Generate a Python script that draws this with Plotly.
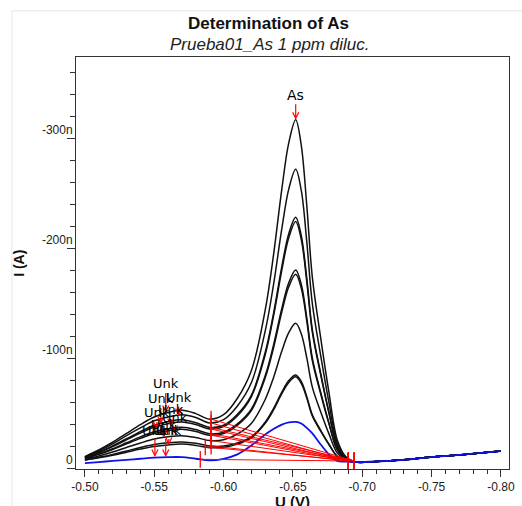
import plotly.graph_objects as go

# Potential grid (V)
U = [-0.500, -0.510, -0.520, -0.530, -0.540, -0.550, -0.560, -0.570, -0.580, -0.590,
     -0.600, -0.610, -0.620, -0.630, -0.636, -0.642, -0.647, -0.652, -0.656, -0.660,
     -0.664, -0.670, -0.676, -0.682, -0.688, -0.695, -0.710, -0.730, -0.750, -0.770, -0.800]

# Cathodic current magnitudes in nA (plotted as negative current)
c1 = [11, 17, 24, 32, 40, 47, 51, 53, 50, 45, 49, 64, 89, 144, 194, 254, 296, 317, 294, 239,
      174, 119, 69, 26, 11, 6, 6.5, 8, 10.5, 12.5, 16]
c2 = [10.6, 16, 22.5, 30, 37, 43.5, 47, 49, 46.5, 41.5, 44.5, 57, 78, 125, 167, 218, 254, 272, 253, 206,
      150, 103, 60, 23, 10.3, 6, 6.5, 8, 10.5, 12.5, 16]
c3 = [10.1, 15, 20.7, 27.2, 33.7, 39.5, 42.7, 44.4, 41.8, 37.5, 39.4, 49.4, 66.7, 105.6, 140.9, 183.6, 213.5, 228.4, 211.9, 173,
      126.2, 86.8, 51.1, 20.3, 9.6, 6, 6.5, 8, 10.5, 12.5, 16]
c4 = [9.9, 14.5, 20, 26.2, 32.4, 37.8, 40.9, 42.5, 40.1, 36, 38.2, 48.1, 65.3, 103.5, 138.5, 180.4, 209.8, 224.5, 208.3, 170,
      124.1, 85.4, 50.4, 20.1, 9.6, 6, 6.5, 8, 10.5, 12.5, 16]
c5 = [9.4, 13.4, 18.1, 23.5, 28.9, 33.6, 36.3, 37.6, 35.5, 31.8, 33.1, 40.7, 54.1, 84.4, 112.2, 145.6, 168.9, 180.5, 167.6, 137,
      100.4, 69.5, 41.4, 17.3, 8.8, 6, 6.5, 8, 10.5, 12.5, 16]
c6 = [9.2, 13, 17.4, 22.5, 27.5, 32, 34.5, 35.8, 33.7, 30.4, 31.9, 39.5, 52.7, 82.5, 109.6, 142.4, 165.2, 176.6, 164, 134.1,
      98.2, 68.1, 40.7, 17, 8.8, 6, 6.5, 8, 10.5, 12.5, 16]
c7 = [8.6, 11.6, 15.2, 19.3, 23.3, 26.9, 29, 30, 28.3, 25.5, 26.2, 31.5, 41.1, 62.8, 82.7, 106.8, 123.6, 132, 122.6, 100.6,
      74.1, 51.8, 31.6, 14.2, 8.1, 6, 6.5, 8, 10.5, 12.5, 16]
c8 = [7.9, 10.3, 13, 16.1, 19.2, 21.9, 23.5, 24.2, 23, 20.6, 20.5, 23.4, 28.9, 42.3, 54.6, 69.6, 80, 85.2, 79.2, 65.4,
      48.9, 34.9, 22.2, 11.2, 7.3, 6, 6.5, 8, 10.5, 12.5, 16]
c9 = [7.7, 9.8, 12.2, 15, 17.8, 20.2, 21.6, 22.3, 21.1, 19.1, 19.4, 22.3, 28, 41.2, 53.3, 68.1, 78.3, 83.4, 77.6, 64.2,
      47.9, 34.2, 21.8, 11, 7.3, 6, 6.5, 8, 10.5, 12.5, 16]
blank = [5, 6, 7, 8, 9, 10, 10.5, 10.5, 9, 7.5, 9, 13, 21, 31, 36, 40, 42, 42.5, 41, 37,
         32, 22, 13, 7, 6.5, 6, 6.5, 8, 10.5, 12.5, 16]

# Baselines for the As peak (start/end potential and current, nA)
bl_u0 = [-0.591, -0.591, -0.591, -0.591, -0.591, -0.591, -0.591, -0.591, -0.5868, -0.5832]
bl_i0 = [45, 41.5, 37.5, 36, 31.8, 30.4, 25.5, 20.6, 19.8, 8.5]
bl_u1 = [-0.6942, -0.6899, -0.6942, -0.6899, -0.6942, -0.6899, -0.6942, -0.6899, -0.6942, -0.6899]
bl_i1 = [7, 7, 7, 7, 7, 7, 7, 7, 7, 7]

# Unk peak markers (potential, current nA)
unk_u = [-0.5583, -0.5676, -0.5548, -0.5619, -0.5519, -0.5647, -0.5569, -0.5605, -0.5583, -0.5505]
unk_i = [50.6, 48.0, 40.6, 38.8, 35.2, 32.5, 27.9, 21.5, 10.6, 10.6]

# As peak (potential, current nA)
as_u = -0.652
as_i = 317

x_ticks = [-0.50, -0.55, -0.60, -0.65, -0.70, -0.75, -0.80]
x_labels = ["-0.50", "-0.55", "-0.60", "-0.65", "-0.70", "-0.75", "-0.80"]
y_ticks = [0, -100, -200, -300]
y_labels = ["0", "-100n", "-200n", "-300n"]

FONT = "Liberation Sans, Arial, sans-serif"
LBLFONT = "DejaVu Sans, sans-serif"

fig = go.Figure()

for c in [c1, c2, c3, c4, c5, c6, c7, c8, c9]:
    fig.add_trace(go.Scatter(x=U, y=[-v for v in c], mode="lines",
                             line=dict(color="#111111", width=1.5, shape="spline", smoothing=1),
                             hoverinfo="skip", showlegend=False))
fig.add_trace(go.Scatter(x=U, y=[-v for v in blank], mode="lines",
                         line=dict(color="#1010ee", width=1.8, shape="spline", smoothing=1),
                         hoverinfo="skip", showlegend=False))

for k in range(len(bl_u0)):
    fig.add_trace(go.Scatter(x=[bl_u0[k], bl_u1[k]], y=[-bl_i0[k], -bl_i1[k]],
                             mode="lines+markers",
                             line=dict(color="#ff0000", width=1),
                             marker=dict(symbol="line-ns", size=12, color="#ff0000",
                                         line=dict(color="#ff0000", width=1.3)),
                             hoverinfo="skip", showlegend=False))

unk_ay = [-29, -18, -25, -16, -17, -15, -13, -15, -27, -27]
for k in range(len(unk_u)):
    fig.add_annotation(x=unk_u[k], y=-unk_i[k], text="Unk", showarrow=True,
                       arrowhead=5, arrowsize=1, arrowwidth=1.2, arrowcolor="#ff0000",
                       ax=0, ay=unk_ay[k], font=dict(family=LBLFONT, size=13, color="#000000"))

fig.add_annotation(x=as_u, y=-as_i, text="As", showarrow=True,
                   arrowhead=5, arrowsize=1, arrowwidth=1.2, arrowcolor="#ff0000",
                   ax=0, ay=-25, font=dict(family=LBLFONT, size=14, color="#000000"))

# Titles
fig.add_annotation(xref="paper", yref="paper", x=0.444, y=1.082, text="<b>Determination of As</b>",
                   showarrow=False, xanchor="center", yanchor="middle",
                   font=dict(family=FONT, size=17, color="#111111"))
fig.add_annotation(xref="paper", yref="paper", x=0.446, y=1.030, text="<i>Prueba01_As 1 ppm diluc.</i>",
                   showarrow=False, xanchor="center", yanchor="middle",
                   font=dict(family=FONT, size=17, color="#222222"))
fig.add_annotation(xref="paper", yref="paper", x=-0.132, y=0.5, text="<b>I (A)</b>", textangle=-90,
                   showarrow=False, xanchor="center", yanchor="middle",
                   font=dict(family=FONT, size=14, color="#111111"))
fig.add_annotation(xref="paper", yref="paper", x=0.501, y=-0.078, text="<b>U (V)</b>",
                   showarrow=False, xanchor="center", yanchor="middle",
                   font=dict(family=FONT, size=15, color="#111111"))

# faint outer screenshot border
fig.add_shape(type="line", xref="paper", yref="paper", x0=-0.148, x1=-0.148, y0=1.112, y1=-0.2,
              line=dict(color="#e6e6e6", width=1))
fig.add_shape(type="line", xref="paper", yref="paper", x0=-0.148, x1=1.1, y0=1.112, y1=1.112,
              line=dict(color="#e6e6e6", width=1))

fig.update_layout(
    width=522, height=506,
    margin=dict(l=76, r=7, t=57, b=37),
    paper_bgcolor="white", plot_bgcolor="white",
    showlegend=False,
    xaxis=dict(range=[-0.4936, -0.8058], tickmode="array", tickvals=x_ticks, ticktext=x_labels,
               ticks="outside", ticklen=7, tickwidth=1, tickcolor="#333333",
               showline=True, linecolor="#333333", linewidth=1, mirror=True,
               showgrid=False, zeroline=False,
               tickfont=dict(family=FONT, size=12, color="#222222"),
               minor=dict(tickmode="linear", tick0=-0.5, dtick=0.01, ticks="outside",
                          ticklen=4, tickcolor="#333333", showgrid=False)),
    yaxis=dict(range=[0.3, -374], tickmode="array", tickvals=y_ticks, ticktext=y_labels,
               ticks="outside", ticklen=8, tickwidth=1, tickcolor="#333333",
               ticklabelposition="outside top",
               showline=True, linecolor="#333333", linewidth=1, mirror=True,
               showgrid=False, zeroline=False,
               tickfont=dict(family=FONT, size=12, color="#222222"),
               minor=dict(tickmode="linear", tick0=0, dtick=20, ticks="outside",
                          ticklen=5, tickcolor="#333333", showgrid=False)),
)

fig.write_html("out.html")
